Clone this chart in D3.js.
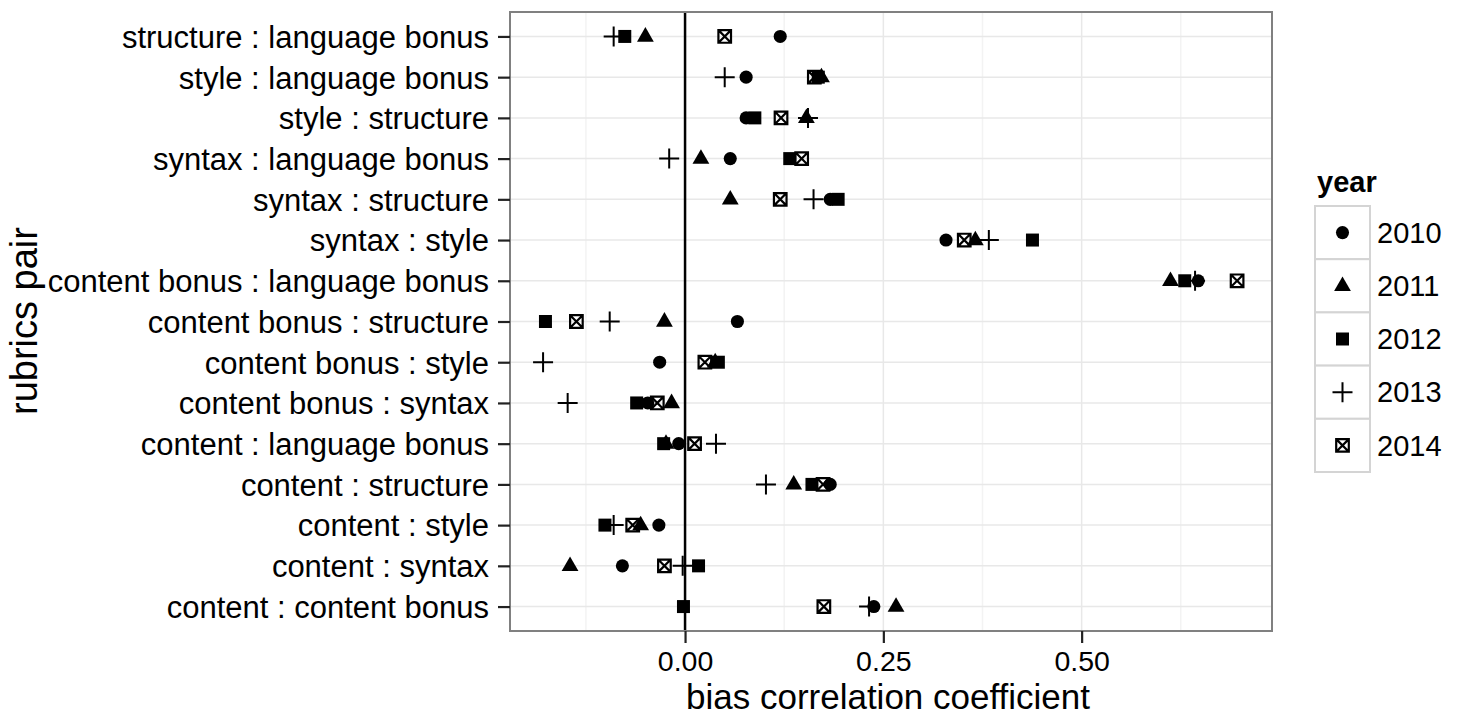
<!DOCTYPE html>
<html>
<head>
<meta charset="utf-8">
<script src="https://cdn.jsdelivr.net/npm/d3@7"></script>
<style>
  body { margin: 0; background: #fff; }
  text { font-family: "Liberation Sans", Arial, sans-serif; fill: #000; }
</style>
</head>
<body>
<div id="chart"></div>
<script>
// rubric pairs, top to bottom as in the figure
const pairs = [
    "structure : language bonus",
    "style : language bonus",
    "style : structure",
    "syntax : language bonus",
    "syntax : structure",
    "syntax : style",
    "content bonus : language bonus",
    "content bonus : structure",
    "content bonus : style",
    "content bonus : syntax",
    "content : language bonus",
    "content : structure",
    "content : style",
    "content : syntax",
    "content : content bonus"
];

const years = ["2010", "2011", "2012", "2013", "2014"];

// bias correlation coefficient per year, same order as pairs
const val2010 = [0.120, 0.077, 0.077, 0.057, 0.183, 0.329, 0.647, 0.066, -0.032, -0.047, -0.008, 0.183, -0.033, -0.079, 0.238];
const val2011 = [-0.050, 0.172, 0.153, 0.020, 0.057, 0.366, 0.612, -0.026, 0.038, -0.017, -0.024, 0.137, -0.056, -0.145, 0.266];
const val2012 = [-0.076, 0.168, 0.088, 0.132, 0.193, 0.438, 0.630, -0.176, 0.042, -0.061, -0.027, 0.160, -0.101, 0.017, -0.002];
const val2013 = [-0.090, 0.050, 0.155, -0.020, 0.162, 0.383, 0.643, -0.095, -0.179, -0.148, 0.039, 0.102, -0.090, -0.003, 0.232];
const val2014 = [0.050, 0.163, 0.121, 0.147, 0.120, 0.352, 0.696, -0.137, 0.025, -0.035, 0.012, 0.174, -0.066, -0.026, 0.175];

const xTicks = [0, 0.25, 0.5];
const xMinor = [-0.125, 0.125, 0.375, 0.625];

const series = [val2010, val2011, val2012, val2013, val2014];

let points = [];
years.forEach((y, i) => {
    pairs.forEach((p, j) => points.push({year: y, pair: p, value: series[i][j]}));
});

const width = 1461, height = 717;
const margin = {top: 12, right: 189, bottom: 86, left: 510};

const svg = d3.select("#chart").append("svg")
    .attr("width", width)
    .attr("height", height);

const x = d3.scaleLinear()
    .domain([-0.2207, 0.740])
    .range([margin.left, width - margin.right]);

const y = d3.scalePoint()
    .domain(pairs)
    .range([margin.top, height - margin.bottom])
    .padding(0.6);

// shape paths (ggplot shapes 16, 17, 15, 3, 7)
const shapes = {
    "2010": {fill: d3.symbol(d3.symbolCircle, 135)(), stroke: null},
    "2011": {fill: "M0,-9.4L8.4,5.2L-8.4,5.2Z", stroke: null},
    "2012": {fill: "M-6.5,-6.5H6.5V6.5H-6.5Z", stroke: null},
    "2013": {fill: null, stroke: "M-10,0H10M0,-10V10"},
    "2014": {fill: null, stroke: "M-6.3,-6.3H6.3V6.3H-6.3ZM-6.3,-6.3L6.3,6.3M6.3,-6.3L-6.3,6.3"}
};

function drawShape(g, year) {
    let s = shapes[year];
    if (s.fill) g.append("path").attr("d", s.fill).attr("fill", "#000");
    if (s.stroke) g.append("path").attr("d", s.stroke)
        .attr("fill", "none").attr("stroke", "#000")
        .attr("stroke-width", year === "2013" ? 2 : 2.2);
}

// panel background grid
const grid = svg.append("g");
grid.selectAll(".minor")
    .data(xMinor)
    .enter().append("line")
    .attr("x1", d => x(d)).attr("x2", d => x(d))
    .attr("y1", margin.top).attr("y2", height - margin.bottom)
    .attr("stroke", "#f3f3f3").attr("stroke-width", 1.5);
grid.selectAll(".majorx")
    .data(xTicks)
    .enter().append("line")
    .attr("x1", d => x(d)).attr("x2", d => x(d))
    .attr("y1", margin.top).attr("y2", height - margin.bottom)
    .attr("stroke", "#e8e8e8").attr("stroke-width", 1.5);
grid.selectAll(".majory")
    .data(pairs)
    .enter().append("line")
    .attr("x1", margin.left).attr("x2", width - margin.right)
    .attr("y1", d => y(d)).attr("y2", d => y(d))
    .attr("stroke", "#e8e8e8").attr("stroke-width", 1.5);

// zero line
svg.append("line")
    .attr("x1", x(0)).attr("x2", x(0))
    .attr("y1", margin.top).attr("y2", height - margin.bottom)
    .attr("stroke", "#000").attr("stroke-width", 2.5);

// points
svg.append("g").selectAll(".pt")
    .data(points)
    .enter().append("g")
    .attr("class", "pt")
    .attr("transform", d => `translate(${x(d.value)},${y(d.pair)})`)
    .each(function (d) { drawShape(d3.select(this), d.year); });

// panel border
svg.append("rect")
    .attr("x", margin.left).attr("y", margin.top)
    .attr("width", width - margin.left - margin.right)
    .attr("height", height - margin.top - margin.bottom)
    .attr("fill", "none").attr("stroke", "#808080").attr("stroke-width", 2);

// axes
const xAxis = svg.append("g")
    .attr("transform", `translate(0,${height - margin.bottom})`)
    .call(d3.axisBottom(x).tickValues(xTicks).tickFormat(d3.format(".2f")).tickSize(12).tickPadding(8));
const yAxis = svg.append("g")
    .attr("transform", `translate(${margin.left},0)`)
    .call(d3.axisLeft(y).tickSize(12).tickPadding(9));

[xAxis, yAxis].forEach(a => {
    a.select(".domain").remove();
    a.selectAll(".tick line").attr("stroke", "#222").attr("stroke-width", 2.2);
    a.selectAll(".tick text").attr("fill", "#000")
        .style("font-family", "'Liberation Sans', Arial, sans-serif");
});
yAxis.selectAll(".tick text").attr("font-size", 31).attr("dy", "0.35em");
xAxis.selectAll(".tick text").attr("font-size", 28.5).attr("dy", "0.71em");

// axis titles
svg.append("text")
    .attr("x", 888).attr("y", 709)
    .attr("text-anchor", "middle")
    .attr("font-size", 35)
    .text("bias correlation coefficient");
svg.append("text")
    .attr("transform", "translate(37,321) rotate(-90)")
    .attr("text-anchor", "middle")
    .attr("font-size", 38)
    .text("rubrics pair");

// legend
const legend = svg.append("g").attr("transform", "translate(1315,206)");
legend.append("text")
    .attr("x", 2).attr("y", -14)
    .attr("font-size", 29).attr("font-weight", "bold")
    .text("year");
const keyH = 53.2, keyW = 55;
const keys = legend.selectAll(".key")
    .data(years)
    .enter().append("g")
    .attr("transform", (d, i) => `translate(0,${i * keyH})`);
keys.append("rect")
    .attr("width", keyW).attr("height", keyH)
    .attr("fill", "#fff").attr("stroke", "#d4d4d4").attr("stroke-width", 2);
keys.append("g")
    .attr("transform", `translate(${keyW / 2},${keyH / 2})`)
    .each(function (d) { drawShape(d3.select(this), d); });
keys.append("text")
    .attr("x", keyW + 7).attr("y", keyH / 2)
    .attr("dy", "0.35em")
    .attr("font-size", 29)
    .text(d => d);
</script>
</body>
</html>
